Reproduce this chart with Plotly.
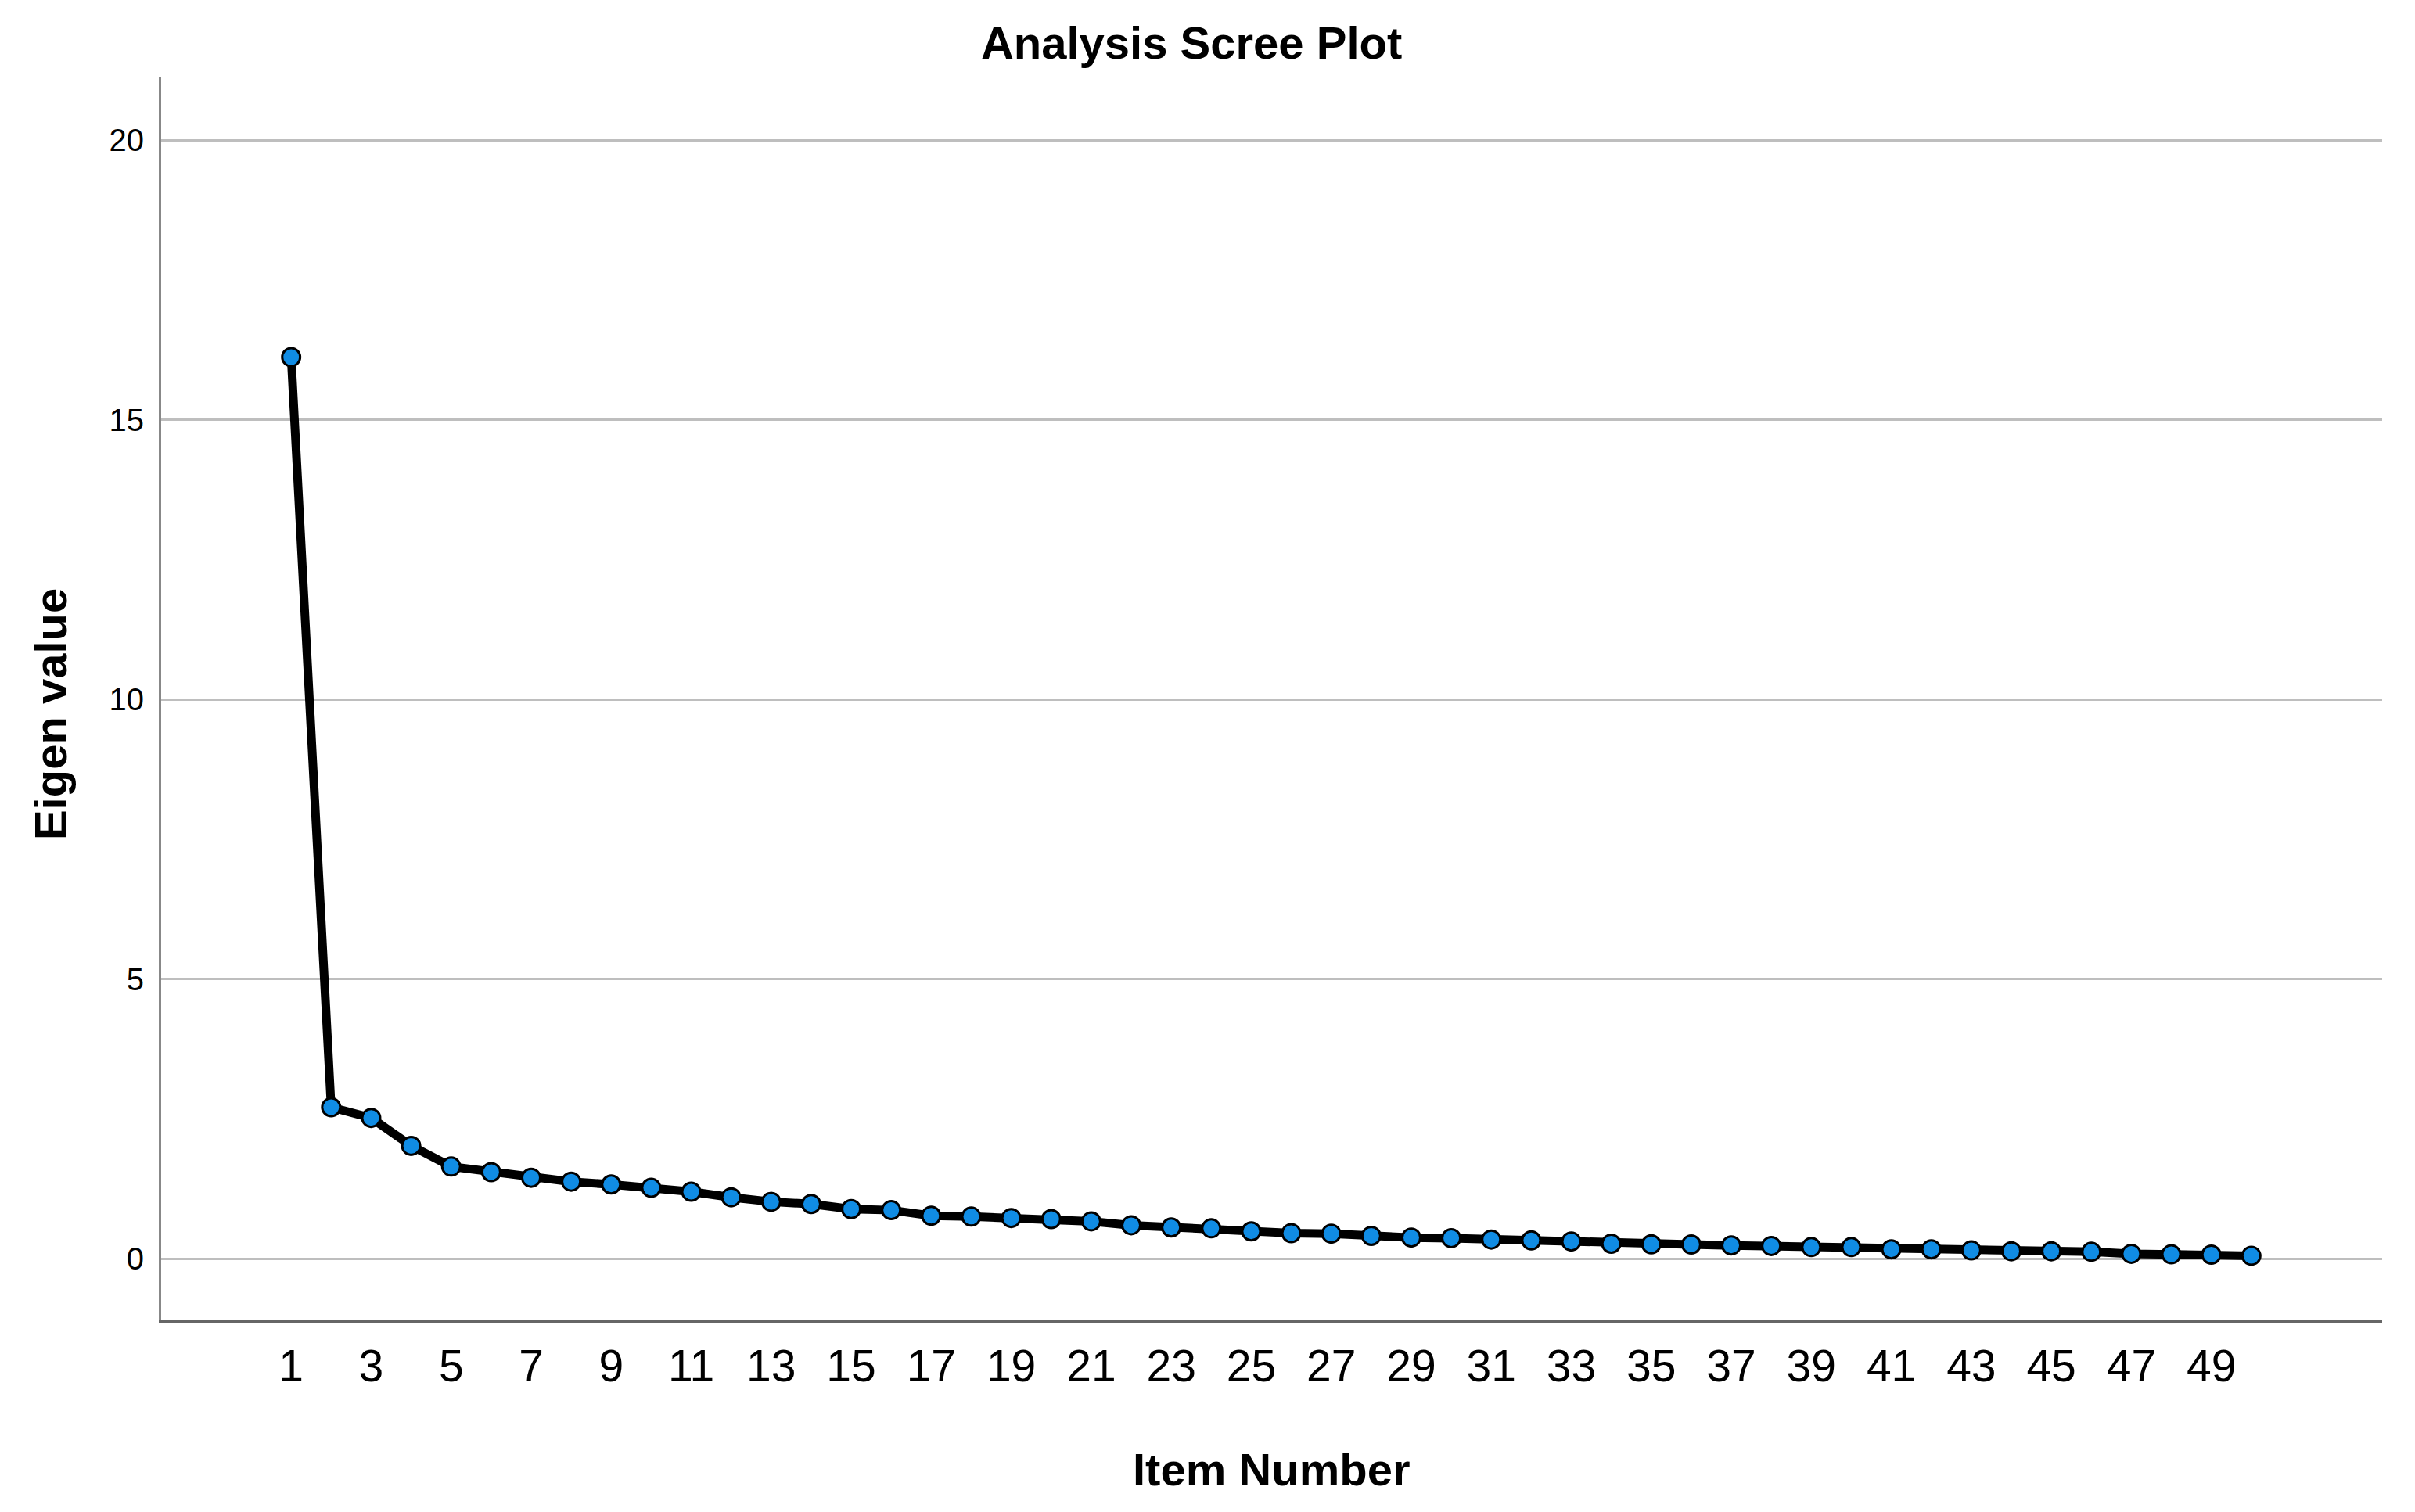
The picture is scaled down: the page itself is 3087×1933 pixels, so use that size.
import plotly.graph_objects as go

items = list(range(1, 51))
eigen_values = [
    16.12, 2.71, 2.52, 2.02, 1.65, 1.55, 1.45, 1.38, 1.33, 1.27,
    1.20, 1.10, 1.02, 0.98, 0.89, 0.87, 0.77, 0.755, 0.73, 0.71,
    0.67, 0.60, 0.56, 0.545, 0.49, 0.46, 0.45, 0.41, 0.38, 0.37,
    0.345, 0.33, 0.31, 0.27, 0.26, 0.256, 0.24, 0.23, 0.21, 0.21,
    0.17, 0.17, 0.15, 0.135, 0.135, 0.126, 0.09, 0.08, 0.075, 0.055,
]
x_tick_vals = list(range(1, 50, 2))
y_tick_vals = [0, 5, 10, 15, 20]

title_text = "Analysis Scree Plot"
x_title = "Item Number"
y_title = "Eigen value"

FONT = "Liberation Sans, Arial, sans-serif"

fig = go.Figure()
fig.add_trace(go.Scatter(
    x=items, y=eigen_values, mode="lines+markers",
    line=dict(color="black", width=11),
    marker=dict(size=23, color="#108ce4", line=dict(color="black", width=3)),
    showlegend=False,
))

# the page body adds an 8 px margin, so the layout is offset by that amount
fig.update_layout(
    width=3087, height=1933,
    margin=dict(l=198, r=50, t=91, b=253),
    paper_bgcolor="white", plot_bgcolor="white",
    font=dict(family=FONT, color="black"),
    title=dict(text=title_text, x=0.4908, xref="container", xanchor="center",
               y=1 - 47 / 1933, yref="container", yanchor="middle",
               font=dict(family=FONT, size=58, weight="bold", color="black")),
    xaxis=dict(
        range=[-2.25, 53.27], tickvals=x_tick_vals, ticktext=[str(v) for v in x_tick_vals],
        showgrid=False, zeroline=False, showline=True, linecolor="#666666", linewidth=4,
        ticks="", tickfont=dict(family=FONT, size=57, color="black"),
        ticklabelstandoff=6,
    ),
    yaxis=dict(
        range=[-1.10, 21.12], tickvals=y_tick_vals, ticktext=[str(v) for v in y_tick_vals],
        showgrid=True, gridcolor="#bebebe", gridwidth=3, zeroline=False,
        showline=True, linecolor="#888888", linewidth=3,
        ticks="", tickfont=dict(family=FONT, size=40, color="black"),
        ticklabelstandoff=11,
    ),
    annotations=[
        dict(text=x_title, xref="paper", yref="paper", x=0.5, y=-0.1202,
             xanchor="center", yanchor="middle", showarrow=False,
             font=dict(family=FONT, size=58, weight="bold", color="black")),
        dict(text=y_title, xref="paper", yref="paper", x=-0.05, y=0.4877,
             xanchor="center", yanchor="middle", textangle=-90, showarrow=False,
             font=dict(family=FONT, size=58, weight="bold", color="black")),
    ],
)

fig.write_html("out.html")
